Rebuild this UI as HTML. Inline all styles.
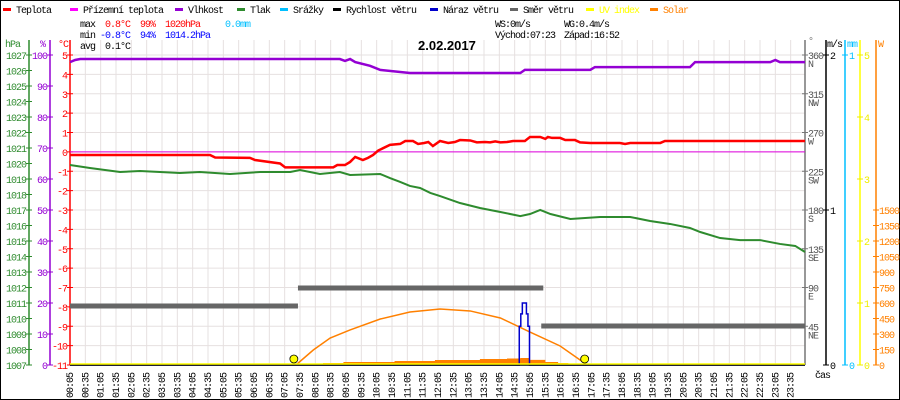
<!DOCTYPE html>
<html><head><meta charset="utf-8">
<style>
html,body{margin:0;padding:0;background:#fff;}
svg{display:block;font-family:"Liberation Mono",monospace;}
</style></head>
<body>
<svg id="chart" width="900" height="400" viewBox="0 0 900 400" xmlns="http://www.w3.org/2000/svg">
<rect x="0.5" y="0.5" width="899" height="399" fill="#fff" stroke="#000"/>
<g id="grid"></g>
<g id="legend" font-size="10" letter-spacing="-1"></g>
<g font-size="10" letter-spacing="-1">
<text x="80" y="27" fill="#000">max</text>
<text x="105" y="27" fill="#f00">0.8°C</text>
<text x="140" y="27" fill="#f00">99%</text>
<text x="165" y="27" fill="#f00">1020hPa</text>
<text x="225" y="27" fill="#00bfff">0.0mm</text>
<text x="80" y="38" fill="#000">min</text>
<text x="100" y="38" fill="#00f">-0.8°C</text>
<text x="140" y="38" fill="#00f">94%</text>
<text x="165" y="38" fill="#00f">1014.2hPa</text>
<text x="80" y="49" fill="#000">avg</text>
<text x="105" y="49" fill="#000">0.1°C</text>
<text x="495" y="27" fill="#000">WS:0m/s</text>
<text x="564" y="27" fill="#000">WG:0.4m/s</text>
<text x="495" y="38" fill="#000">Východ:07:23</text>
<text x="564" y="38" fill="#000">Západ:16:52</text>
</g>
<text x="418" y="50" font-family="Liberation Sans,sans-serif" font-weight="bold" font-size="13" fill="#000">2.02.2017</text>
<g id="axes" font-size="10" letter-spacing="-1"></g>
<g id="series"></g>
</svg>
<script>
// ---- data (times in minutes since midnight) ----
const tempTimes=[5,279,289,357,367,416,426,520,528,543,553,563,578,588,598,608,631,651,661,676,686,698,706,715,729,745,758,768,788,801,817,827,837,847,860,872,895,905,925,935,940,948,964,974,993,1003,1023,1081,1091,1101,1160,1169,1443];
const tempValues=[-0.16,-0.16,-0.29,-0.31,-0.42,-0.6,-0.8,-0.8,-0.68,-0.68,-0.52,-0.26,-0.42,-0.31,-0.16,0.07,0.36,0.41,0.56,0.56,0.41,0.46,0.51,0.3,0.56,0.46,0.51,0.61,0.59,0.49,0.51,0.49,0.54,0.49,0.51,0.56,0.56,0.77,0.77,0.67,0.77,0.72,0.72,0.61,0.61,0.49,0.46,0.46,0.41,0.46,0.46,0.56,0.56];
const feelTimes=[5,1443];
const feelValues=[0,0];
const humTimes=[5,15,25,533,543,553,563,592,612,670,886,895,1023,1032,1218,1228,1375,1385,1394,1443];
const humValues=[97.7,98.4,98.7,98.7,98.1,98.7,97.7,96.5,95.2,94.2,94.2,95.2,95.2,96.1,96.1,97.7,97.7,98.4,97.7,97.7];
const presTimes=[5,44,103,142,181,220,259,318,377,436,455,494,533,553,612,631,651,670,690,710,729,768,807,847,886,905,925,945,984,1042,1101,1140,1179,1218,1238,1277,1316,1355,1394,1424,1443];
const presValues=[1019.9,1019.71,1019.45,1019.52,1019.45,1019.39,1019.45,1019.32,1019.45,1019.45,1019.58,1019.32,1019.45,1019.26,1019.32,1019.06,1018.81,1018.55,1018.42,1018.1,1017.9,1017.45,1017.13,1016.87,1016.61,1016.74,1017.0,1016.74,1016.42,1016.55,1016.55,1016.29,1016.1,1015.84,1015.58,1015.19,1015.06,1015.06,1014.81,1014.68,1014.29];
const dirStarts=[5,451,927];
const dirEnds=[451,931,1443];
const dirValues=[68.5,89.4,45.3];
const gustTimes=[5,880,884,887,890,898,901,904,1443];
const gustValues=[0,0,0.25,0.33,0.4,0.33,0.25,0,0];
const solarTimes=[478,500,540,600,640,700,719,760,807,860,886,905,935,960,980,995];
const solarValues=[10,19,29,29,39,39,48,48,58,63,68,50,29,19,10,0];
const theoTimes=[447,481,514,553,612,670,729,788,847,905,964,1017];
const theoValues=[0,145,261,339,445,513,542,523,455,319,184,0];
const sunTimes=[443,1012];
const timeLabels=[];for(let h=0;h<24;h++){for(const m of ["05","35"]){timeLabels.push(String(h).padStart(2,"0")+":"+m);}}
const tempTicks=[5,4,3,2,1,0,-1,-2,-3,-4,-5,-6,-7,-8,-9,-10,-11];
const humTicks=[100,90,80,70,60,50,40,30,20,10,0];
const presTicks=[1027,1026,1025,1024,1023,1022,1021,1020,1019,1018,1017,1016,1015,1014,1013,1012,1011,1010,1009,1008,1007];
const dirTicks=[360,315,270,225,180,135,90,45];
const dirNames=["N","NW","W","SW","S","SE","E","NE"];
const uvTicks=[5,4,3,2,1,0];
const wTicks=[1500,1350,1200,1050,900,750,600,450,300,150,0];

// ---- scales ----
const X0=70,X1=806,YT=55,YB=365;
const xT=t=>X0+(t-5)*(X1-X0)/1440;
const yLin=(v,lo,hi)=>YB-(v-lo)*(YB-YT)/(hi-lo);
const yTemp=v=>yLin(v,-11,5), yHum=v=>yLin(v,0,100), yPres=v=>yLin(v,1007,1027);
const yDir=v=>yLin(v,0,360), yMs=v=>yLin(v,0,2), yUV=v=>yLin(v,0,5), yW=v=>yLin(v,0,3000);
const NS="http://www.w3.org/2000/svg";
function mk(tag,attrs,parent){const e=document.createElementNS(NS,tag);for(const k in attrs)e.setAttribute(k,attrs[k]);parent.appendChild(e);return e;}
const grid=document.getElementById('grid'),axes=document.getElementById('axes'),series=document.getElementById('series'),legend=document.getElementById('legend');

// grid
timeLabels.forEach((lab,i)=>{
  const x=X0+i*(X1-X0)/48;
  const l=mk('line',{x1:x,x2:x,y1:40,y2:YB,stroke:'#e6e0e0','stroke-width':1},grid);
  
  
  const t=mk('text',{x:0,y:0,transform:`translate(${x+3},${398}) rotate(-90)`,'font-size':10,fill:'#000'},axes);
  
  
  t.textContent=lab;
});
tempTicks.forEach(v=>{
  const y=yTemp(v);
  const l=mk('line',{x1:X0,x2:805,y1:y,y2:y,stroke:'#e6e0e0'},grid);
  
  
});

// legend
const legItems=[["Teplota","#f00",3],["Přízemní teplota","#f0f",70],["Vlhkost","#9400d3",175],["Tlak","#2e8b2e",237],["Srážky","#00bfff",280],["Rychlost větru","#000",333],["Náraz větru","#00c",430],["Směr větru","#666",510],["UV index","#ff0",586],["Solar","#ff8000",650]];
legItems.forEach(([name,col,x])=>{
  const g=mk('g',{},legend);
  
  
  mk('rect',{x:x,y:8,width:8,height:3,fill:col},g);
  const t=mk('text',{x:x+13,y:13,fill:(col=="#ff0"||col=="#ff8000")?col:"#000"},g);
  t.textContent=name;
});

// axes
function vline(x,col,name){const l=mk('line',{x1:x,x2:x,y1:40,y2:YB,stroke:col,'stroke-width':1.5},axes);}
vline(29,'#2e8b2e','pressure-axis');vline(50,'#9400d3','humidity-axis');vline(70,'#f00','temperature-axis');
vline(805,'#777','direction-axis');vline(826,'#000','wind-axis');vline(845,'#00bfff','rain-axis');vline(860,'#ff0','uv-axis');vline(876,'#ff8000','solar-axis');
function label(x,y,txt,col,anchor,name){const t=mk('text',{x:x,y:y,fill:col,'text-anchor':anchor||'start'},axes);t.textContent=txt;return t;}
function tick(x,y,col){mk('line',{x1:x-3,x2:x+3,y1:y,y2:y,stroke:col},axes);}
label(5,47,'hPa','#2e8b2e','start','pressure-axis-title');
label(40,47,'%','#9400d3','start','humidity-axis-title');
label(58,47,'°C','#f00','start','temperature-axis-title');
presTicks.forEach(v=>{const y=yPres(v);tick(29,y,'#2e8b2e');label(26,y+4,String(v),'#2e8b2e','end','pressure-tick');});
humTicks.forEach(v=>{const y=yHum(v);tick(50,y,'#9400d3');label(47,y+4,String(v),'#9400d3','end','humidity-tick');});
tempTicks.forEach(v=>{const y=yTemp(v);tick(70,y,'#f00');label(67,y+4,String(v),'#f00','end','temperature-tick');});
label(808,44,'°','#777','start','direction-axis-title');
label(827,47,'m/s','#000','start','wind-axis-title');
label(847,47,'mm','#00bfff','start','rain-axis-title');
label(878,47,'W','#ff8000','start','solar-axis-title');
dirTicks.forEach((v,i)=>{const y=yDir(v);tick(805,y,'#777');label(808,y+4,String(v),'#555','start','direction-tick');label(808,y+12,dirNames[i],'#555','start','direction-name');});
[2,1,0].forEach(v=>{const y=yMs(v);tick(826,y,'#000');label(830,y+4,String(v),'#000','start','wind-tick');});
[1,0].forEach(v=>{const y=yLin(v,0,1);tick(845,y,'#00bfff');label(849,y+4,String(v),'#00bfff','start','rain-tick');});
uvTicks.forEach(v=>{const y=yUV(v);tick(860,y,'#ee0');label(864,y+4,String(v),'#ee0','start','uv-tick');});
wTicks.forEach(v=>{const y=yW(v);tick(876,y,'#ff8000');label(879,y+4,String(v),'#ff8000','start','solar-tick');});
label(815,378,'čas','#000','start','x-axis-title');

// series
function poly(times,vals,yf,col,w,name,step){
  let pts=[];
  times.forEach((t,i)=>{const x=xT(t),y=yf(vals[i]);if(step&&i>0)pts.push(x+','+yf(vals[i-1]));pts.push(x+','+y);});
  const p=mk('polyline',{points:pts.join(' '),fill:'none',stroke:col,'stroke-width':w},series);
  
  
  return p;
}
(function(){
  let pts=[xT(solarTimes[0])+','+YB];
  solarTimes.forEach((t,i)=>{if(i>0)pts.push(xT(t)+','+yW(solarValues[i-1]));pts.push(xT(t)+','+yW(solarValues[i]));});
  pts.push(xT(solarTimes[solarTimes.length-1])+','+YB);
  const p=mk('polygon',{points:pts.join(' '),fill:'#ff8000'},series);
  
  
})();
poly(theoTimes,theoValues,yW,'#ff8000',1.5,'solar-theoretical-line',false);
dirValues.forEach((v,i)=>{
  const s=mk('line',{x1:xT(dirStarts[i]),x2:xT(dirEnds[i]),y1:yDir(v),y2:yDir(v),stroke:'#666','stroke-width':5},series);
  
  
});
poly(gustTimes,gustValues,yMs,'#00c',1.5,'wind-gust-line',true);
poly(presTimes,presValues,yPres,'#2e8b2e',2,'pressure-line',false);
poly(humTimes,humValues,yHum,'#9400d3',2.5,'humidity-line',false);
poly(feelTimes,feelValues,yTemp,'#e000e0',1,'apparent-temperature-line',false);
poly(tempTimes,tempValues,yTemp,'#f00',2.5,'temperature-line',false);
const xa=mk('line',{x1:X0,x2:805,y1:YB,y2:YB,stroke:'#000','stroke-width':1.5},series);


const uv=mk('line',{x1:X0,x2:805,y1:YB-1,y2:YB-1,stroke:'#ff0','stroke-width':1.5},series);


sunTimes.forEach(t=>{
  const c=mk('circle',{cx:xT(t),cy:YB-6,r:4,fill:'#ff0',stroke:'#000','stroke-width':0.8},series);
  
  
});
</script>
</body></html>
